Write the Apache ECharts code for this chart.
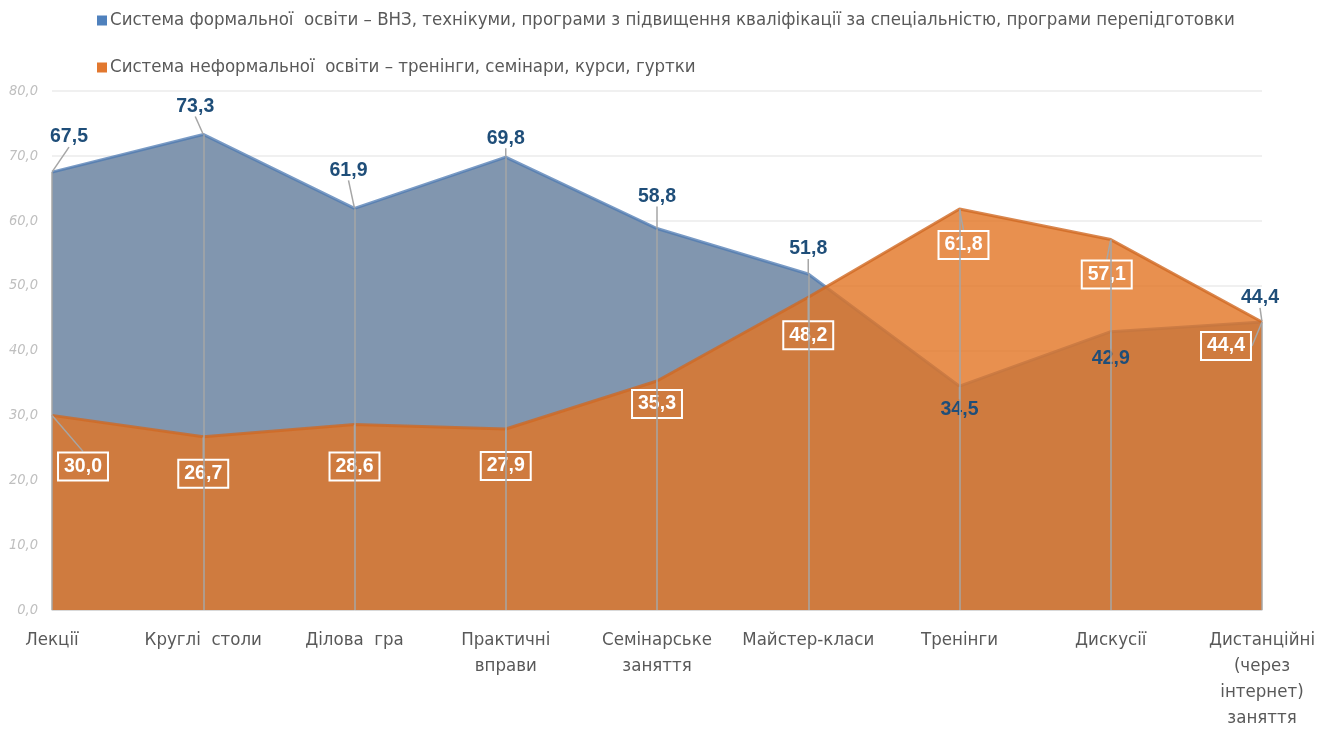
<!DOCTYPE html>
<html>
<head>
<meta charset="utf-8">
<script src="https://cdn.jsdelivr.net/npm/echarts@6/dist/echarts.min.js"></script>
<style>html,body{margin:0;padding:0;background:#fff;}#c{width:1329px;height:731px;}</style>
</head>
<body>
<div id="c"></div>
<script>
const categories = ['Лекції', 'Круглі  столи', 'Ділова  гра', 'Практичні\nвправи', 'Семінарське\nзаняття', 'Майстер-класи', 'Тренінги', 'Дискусії', 'Дистанційні\n(через\nінтернет)\nзаняття'];
const formalName = 'Система формальної  освіти – ВНЗ, технікуми, програми з підвищення кваліфікації за спеціальністю, програми перепідготовки';
const informalName = 'Система неформальної  освіти – тренінги, семінари, курси, гуртки';
const formalValues = [67.5, 73.3, 61.9, 69.8, 58.8, 51.8, 34.5, 42.9, 44.4];
const informalValues = [30.0, 26.7, 28.6, 27.9, 35.3, 48.2, 61.8, 57.1, 44.4];
const yTicks = [0, 10, 20, 30, 40, 50, 60, 70, 80];

// label offsets (pixels) relative to each point
const formalLabelOffsets = [[17,-35],[-8,-28],[-6,-38],[0,-19],[0,-32],[0,-25],[0,23],[0,27],[-2,-24]];
const informalLabelOffsets = [[31,51],[0,37],[0,42],[0,37],[0,23],[0,38],[4,36],[-4,35],[-36,24]];

const FONT = "'Liberation Sans Narrow', 'DejaVu Sans Condensed', 'Liberation Sans', Arial, sans-serif";
const LABEL_FONT = "'Liberation Sans', Arial, sans-serif";
const fmt = v => v.toFixed(1).replace('.', ',');

const chart = echarts.init(document.getElementById('c'), null, {renderer: 'canvas'});

const dropLines = categories.map((c, i) => [
  {coord: [i, 0]},
  {coord: [i, Math.max(formalValues[i], informalValues[i])]}
]);

const guide = {show: true, length2: 0, lineStyle: {color: '#A6A6A6', width: 1.5}};

chart.setOption({
  animation: false,
  backgroundColor: '#fff',
  legend: {
    orient: 'vertical',
    left: 92, top: 6,
    itemWidth: 10, itemHeight: 10, itemGap: 28,
    icon: 'rect',
    textStyle: {fontFamily: FONT, fontSize: 18.5, color: '#595959', padding: [0, 0, 0, -2]},
    data: [formalName, informalName]
  },
  grid: {left: 52, right: 67, top: 91, bottom: 116, containLabel: false},
  xAxis: {
    type: 'category',
    data: categories,
    boundaryGap: false,
    axisLine: {show: true, lineStyle: {color: '#D9D9D9', width: 1}},
    axisTick: {show: false},
    axisLabel: {fontFamily: FONT, fontSize: 18.5, color: '#595959', margin: 17, lineHeight: 26, interval: 0},
    splitLine: {show: false}
  },
  yAxis: {
    type: 'value',
    min: yTicks[0], max: yTicks[yTicks.length - 1], interval: 10,
    axisLine: {show: false},
    axisTick: {show: false},
    axisLabel: {fontFamily: FONT, fontSize: 14.5, fontStyle: 'italic', color: '#BFBFBF', margin: 14, formatter: v => fmt(v)},
    splitLine: {lineStyle: {color: '#EBEBEB', width: 1.5}}
  },
  series: [
    {
      name: formalName,
      type: 'line',
      data: formalValues,
      showSymbol: false, symbol: 'circle', symbolSize: 1,
      itemStyle: {color: '#4F81BD'},
      lineStyle: {color: 'rgba(78,122,178,0.75)', width: 3},
      areaStyle: {color: '#8196AF', opacity: 1},
      z: 2,
      label: {show: false},
      emphasis: {disabled: true}
    },
    {
      name: informalName,
      type: 'line',
      data: informalValues,
      symbol: 'circle', symbolSize: 1, showSymbol: true,
      itemStyle: {color: '#E2782F'},
      lineStyle: {color: 'rgba(208,105,35,0.8)', width: 3},
      areaStyle: {color: 'rgba(226,116,35,0.8)', opacity: 1},
      z: 3,
      label: {
        show: true, position: 'inside',
        fontFamily: LABEL_FONT, fontSize: 19.5, fontWeight: 'bold', color: '#FFFFFF',
        borderColor: '#FFFFFF', borderWidth: 2, padding: [5, 6, 3, 6],
        formatter: p => fmt(p.value)
      },
      labelLine: guide,
      labelLayout: p => ({dx: informalLabelOffsets[p.dataIndex][0], dy: informalLabelOffsets[p.dataIndex][1]}),
      markLine: {
        silent: true, symbol: ['none', 'none'], label: {show: false},
        lineStyle: {color: '#A6A6A6', width: 1.5, type: 'solid'},
        data: dropLines
      },
      emphasis: {disabled: true}
    },
    {
      name: formalName + ' (labels)',
      type: 'line',
      data: formalValues,
      symbol: 'circle', symbolSize: 1, showSymbol: true,
      itemStyle: {color: 'rgba(0,0,0,0)'},
      lineStyle: {width: 0, opacity: 0},
      z: 4,
      label: {
        show: true, position: 'inside',
        fontFamily: LABEL_FONT, fontSize: 19.5, fontWeight: 'bold', color: '#1F4E79',
        formatter: p => fmt(p.value)
      },
      labelLine: guide,
      labelLayout: p => ({dx: formalLabelOffsets[p.dataIndex][0], dy: formalLabelOffsets[p.dataIndex][1]}),
      emphasis: {disabled: true}
    }
  ]
});
</script>
</body>
</html>
